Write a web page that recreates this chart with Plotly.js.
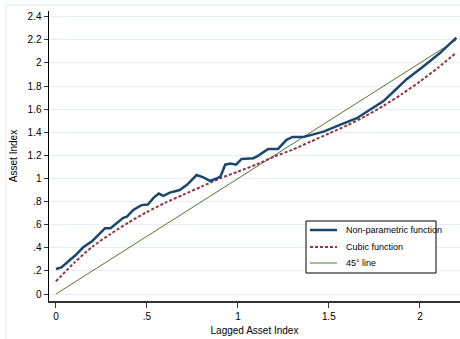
<!DOCTYPE html>
<html>
<head>
<meta charset="utf-8">
<script src="https://cdn.plot.ly/plotly-3.0.1.min.js"></script>
<style>html,body{margin:0;padding:0;background:#fff;}#chart{width:460px;height:339px;}</style>
</head>
<body>
<div id="chart"></div>
<script>
// Non-parametric function (lagged index, index)
const npX = [0, 0.03, 0.077, 0.11, 0.15, 0.2, 0.242, 0.27, 0.3, 0.333, 0.37, 0.39, 0.425, 0.47, 0.505, 0.535, 0.565, 0.59, 0.626, 0.68, 0.72, 0.773, 0.81, 0.846, 0.883, 0.905, 0.93, 0.96, 0.99, 1.02, 1.085, 1.11, 1.166, 1.22, 1.267, 1.30, 1.36, 1.41, 1.47, 1.56, 1.65, 1.74, 1.80, 1.86, 1.927, 2.018, 2.11, 2.2];
const npY = [0.217, 0.23, 0.295, 0.34, 0.405, 0.46, 0.526, 0.57, 0.57, 0.61, 0.66, 0.67, 0.728, 0.77, 0.775, 0.83, 0.87, 0.85, 0.878, 0.90, 0.945, 1.03, 1.01, 0.98, 1.0, 1.02, 1.12, 1.13, 1.12, 1.17, 1.176, 1.196, 1.256, 1.256, 1.335, 1.36, 1.36, 1.38, 1.406, 1.465, 1.52, 1.61, 1.67, 1.76, 1.86, 1.97, 2.086, 2.22];
// Cubic function
const cubX = [0, 0.1, 0.2, 0.3, 0.4, 0.5, 0.6, 0.7, 0.8, 0.9, 1.0, 1.1, 1.2, 1.3, 1.4, 1.5, 1.6, 1.7, 1.8, 1.9, 2.0, 2.1, 2.2];
const cubY = [0.11, 0.27, 0.41, 0.52, 0.62, 0.71, 0.79, 0.86, 0.93, 1.00, 1.06, 1.12, 1.19, 1.25, 1.32, 1.39, 1.46, 1.54, 1.63, 1.73, 1.84, 1.96, 2.09];
// 45 degree line
const degX = [0, 2.2];
const degY = [0, 2.2];

const seriesNames = ["Non-parametric function", "Cubic function", "45\u00b0 line"];
const yTickVals = [0, 0.2, 0.4, 0.6, 0.8, 1, 1.2, 1.4, 1.6, 1.8, 2, 2.2, 2.4];
const yTickText = ["0", ".2", ".4", ".6", ".8", "1", "1.2", "1.4", "1.6", "1.8", "2", "2.2", "2.4"];
const xTickVals = [0, 0.5, 1, 1.5, 2];
const xTickText = ["0", ".5", "1", "1.5", "2"];

const colors = ["#1a476f", "#90353b", "#55752f"];
const font = "Liberation Sans, Arial, sans-serif";

const traces = [
  {x: degX, y: degY, mode: "lines", name: seriesNames[2], line: {color: colors[2], width: 1}},
  {x: cubX, y: cubY, mode: "lines", name: seriesNames[1], line: {color: colors[1], width: 2, dash: "3px,2px", shape: "spline", smoothing: 0.6}},
  {x: npX, y: npY, mode: "lines", name: seriesNames[0], line: {color: colors[0], width: 2.5}}
];

// manual legend geometry (paper coordinates)
const L = 49, PW = 411, B = 301, PH = 290;
const px = v => (v - L) / PW;
const py = v => (B - v) / PH;
const legendRows = [230, 247, 263];
const legendOrder = [0, 1, 2];
const shapes = [
  {type: "line", xref: "paper", yref: "paper", x0: px(6), x1: px(460), y0: py(5), y1: py(5), line: {color: "#dfe8ec", width: 1}},
  {type: "line", xref: "paper", yref: "paper", x0: px(6), x1: px(6), y0: py(5), y1: py(339), line: {color: "#dfe8ec", width: 1}},
  {type: "rect", xref: "paper", yref: "paper", x0: px(306), x1: px(436), y0: py(221), y1: py(273), line: {color: "#000", width: 1}, fillcolor: "#fff", layer: "above"}
];
const annotations = [];
const legendStyles = [
  {color: colors[0], width: 2.5, dash: "solid"},
  {color: colors[1], width: 2, dash: "3px,2px"},
  {color: colors[2], width: 1, dash: "solid"}
];
legendOrder.forEach((k, i) => {
  const yy = py(legendRows[i]);
  shapes.push({type: "line", xref: "paper", yref: "paper", x0: px(310), x1: px(337), y0: yy, y1: yy, line: legendStyles[k], layer: "above"});
  annotations.push({xref: "paper", yref: "paper", x: px(344), y: yy, xanchor: "left", yanchor: "middle", text: seriesNames[k], showarrow: false, font: {family: font, size: 9, color: "#000"}});
});

const layout = {
  width: 460, height: 339,
  margin: {l: L, r: 0, t: 11, b: 38},
  paper_bgcolor: "#fff", plot_bgcolor: "#fff",
  showlegend: false,
  font: {family: font, size: 10, color: "#000"},
  xaxis: {
    range: [-0.038, 2.22], tickvals: xTickVals, ticktext: xTickText,
    showgrid: false, zeroline: false, showline: true, linecolor: "#333", linewidth: 1.5,
    ticks: "outside", ticklen: 5, tickcolor: "#333", tickfont: {family: font, size: 10},
    title: {text: "Lagged Asset Index", font: {family: font, size: 10}, standoff: 6}
  },
  yaxis: {
    range: [-0.06, 2.45], tickvals: yTickVals, ticktext: yTickText,
    showgrid: true, gridcolor: "#e6eef1", gridwidth: 1, zeroline: false,
    showline: true, linecolor: "#000", linewidth: 1.5,
    ticks: "outside", ticklen: 4, tickcolor: "#333", tickfont: {family: font, size: 10},
    title: {text: "Asset Index", font: {family: font, size: 10}, standoff: 8}
  },
  shapes: shapes,
  annotations: annotations
};

Plotly.newPlot("chart", traces, layout, {staticPlot: true, displayModeBar: false});
</script>
</body>
</html>
